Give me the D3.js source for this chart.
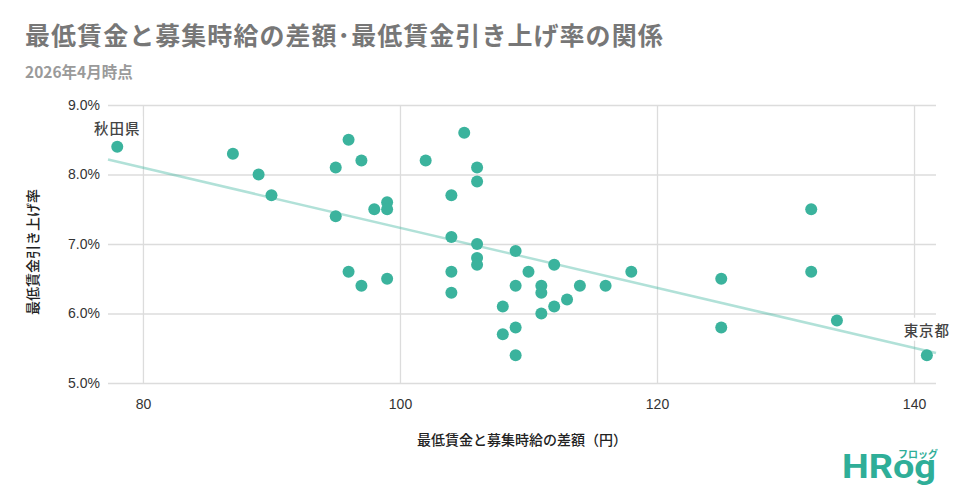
<!DOCTYPE html>
<html>
<head>
<meta charset="utf-8">
<script src="https://cdn.jsdelivr.net/npm/d3@7"></script>
<style>
  html, body { margin: 0; padding: 0; background: #fff; }
  svg { display: block; }
</style>
</head>
<body>
<svg id="chart" width="960" height="504"></svg>
<script>
// ---- data ----
const gapYen = [78, 87, 89, 90, 95, 95, 96, 96, 97, 97, 98, 99, 99, 99, 102, 104, 104, 104, 104, 105,
  106, 106, 106, 106, 106, 108, 108, 109, 109, 109, 109, 110, 111, 111, 111, 112, 112, 113, 114, 116,
  118, 125, 125, 132, 132, 134, 141];
const raiseRate = [8.4, 8.3, 8.0, 7.7, 8.1, 7.4, 8.5, 6.6, 8.2, 6.4, 7.5, 7.6, 7.5, 6.5, 8.2, 7.7, 7.1, 6.6, 6.3, 8.6,
  8.1, 7.9, 7.0, 6.8, 6.7, 6.1, 5.7, 6.9, 6.4, 5.8, 5.4, 6.6, 6.4, 6.3, 6.0, 6.7, 6.1, 6.2, 6.4, 6.4,
  6.6, 6.5, 5.8, 7.5, 6.6, 5.9, 5.4];
const labelNames = ["秋田県", "東京都"];
const labelIndex = [0, 46];
const xTicks = [80, 100, 120, 140];
const yTicks = [5, 6, 7, 8, 9];
const titleText = "最低賃金と募集時給の差額･最低賃金引き上げ率の関係";
const subtitleText = "2026年4月時点";
const xTitle = "最低賃金と募集時給の差額（円）";
const yTitle = "最低賃金引き上げ率";

(function () {
// ---- layout ----
const svg = d3.select("#chart");
const pL = 108, pR = 936, pT = 105, pB = 383;
const teal = "#3bb39d";
const jp = "'Noto Sans CJK JP', 'Noto Sans', sans-serif";
const latin = "'Liberation Sans', Arial, sans-serif";

const x = d3.scaleLinear().domain([77.28, 141.71]).range([pL, pR]);
const y = d3.scaleLinear().domain([5, 9]).range([pB, pT]);

// title
svg.append("text").attr("x", 25).attr("y", 45)
  .attr("font-family", jp).attr("font-weight", 700).attr("font-size", 25)
  .attr("letter-spacing", 1.05)
  .attr("fill", "#777").text(titleText);
svg.append("text").attr("x", 25).attr("y", 78)
  .attr("font-family", jp).attr("font-weight", 700).attr("font-size", 15.5)
  .attr("fill", "#9a9a9a").text(subtitleText);

// gridlines
const xAxis = d3.axisBottom(x).tickValues(xTicks).tickSize(-(pB - pT)).tickPadding(16)
  .tickFormat(d3.format("d"));
const gx = svg.append("g").attr("transform", `translate(0,${pB})`).call(xAxis);
gx.select(".domain").remove();
gx.selectAll("line").attr("stroke", "#dcdcdc").attr("stroke-width", 1.3);
gx.selectAll("text").attr("font-family", latin).attr("font-size", 14).attr("fill", "#333");

const yAxis = d3.axisLeft(y).tickValues(yTicks).tickSize(-(pR - pL)).tickPadding(8)
  .tickFormat(d => d3.format(".1f")(d) + "%");
const gy = svg.append("g").attr("transform", `translate(${pL},0)`).call(yAxis);
gy.select(".domain").remove();
gy.selectAll("line").attr("stroke", "#dcdcdc").attr("stroke-width", 1.3);
gy.selectAll("text").attr("font-family", latin).attr("font-size", 14).attr("fill", "#333");

// trendline (least squares from data)
const n = gapYen.length;
const mx = d3.mean(gapYen), my = d3.mean(raiseRate);
let sxy = 0, sxx = 0;
for (let i = 0; i < n; i++) { sxy += (gapYen[i] - mx) * (raiseRate[i] - my); sxx += (gapYen[i] - mx) ** 2; }
const slope = sxy / sxx, icpt = my - slope * mx;
const [d0, d1] = x.domain();
svg.append("line")
  .attr("x1", x(d0)).attr("y1", y(icpt + slope * d0))
  .attr("x2", x(d1)).attr("y2", y(icpt + slope * d1))
  .attr("stroke", teal).attr("stroke-opacity", 0.4).attr("stroke-width", 2.5);

// points
svg.append("g").selectAll("circle").data(gapYen).join("circle")
  .attr("cx", d => x(d)).attr("cy", (d, i) => y(raiseRate[i]))
  .attr("r", 6).attr("fill", teal);

// labels
const labelDy = [-19, -26];
labelNames.forEach((name, k) => {
  const i = labelIndex[k];
  const g = svg.append("g");
  const t = g.append("text")
    .attr("x", x(gapYen[i])).attr("y", y(raiseRate[i]) + labelDy[k])
    .attr("text-anchor", "middle").attr("dominant-baseline", "central")
    .attr("font-family", jp).attr("font-weight", 500).attr("font-size", 14.5)
    .attr("letter-spacing", 1)
    .attr("fill", "#444").text(name);
  const bb = t.node().getBBox();
  g.insert("rect", "text").attr("x", bb.x - 2).attr("y", bb.y - 1)
    .attr("width", bb.width + 4).attr("height", bb.height + 2).attr("fill", "#fff");
});

// axis titles
svg.append("text").attr("x", (pL + pR) / 2).attr("y", 445)
  .attr("text-anchor", "middle").attr("font-family", jp).attr("font-weight", 500)
  .attr("font-size", 14).attr("fill", "#222").text(xTitle);
svg.append("text").attr("transform", `translate(38,252) rotate(-90)`)
  .attr("text-anchor", "middle").attr("font-family", jp).attr("font-weight", 500)
  .attr("font-size", 14).attr("fill", "#222").text(yTitle);

// logo
svg.append("text").attr("x", 842).attr("y", 478)
  .attr("font-family", "Roboto, 'Liberation Sans', sans-serif").attr("font-weight", 700)
  .attr("font-size", 34).attr("textLength", 94).attr("lengthAdjust", "spacingAndGlyphs")
  .attr("fill", "#2fae98").text("HRog");
svg.append("text").attr("x", 898).attr("y", 458)
  .attr("font-family", jp).attr("font-weight", 700)
  .attr("font-size", 10).attr("textLength", 40).attr("lengthAdjust", "spacingAndGlyphs")
  .attr("fill", "#2fae98").text("フロッグ");
})();
</script>
</body>
</html>
